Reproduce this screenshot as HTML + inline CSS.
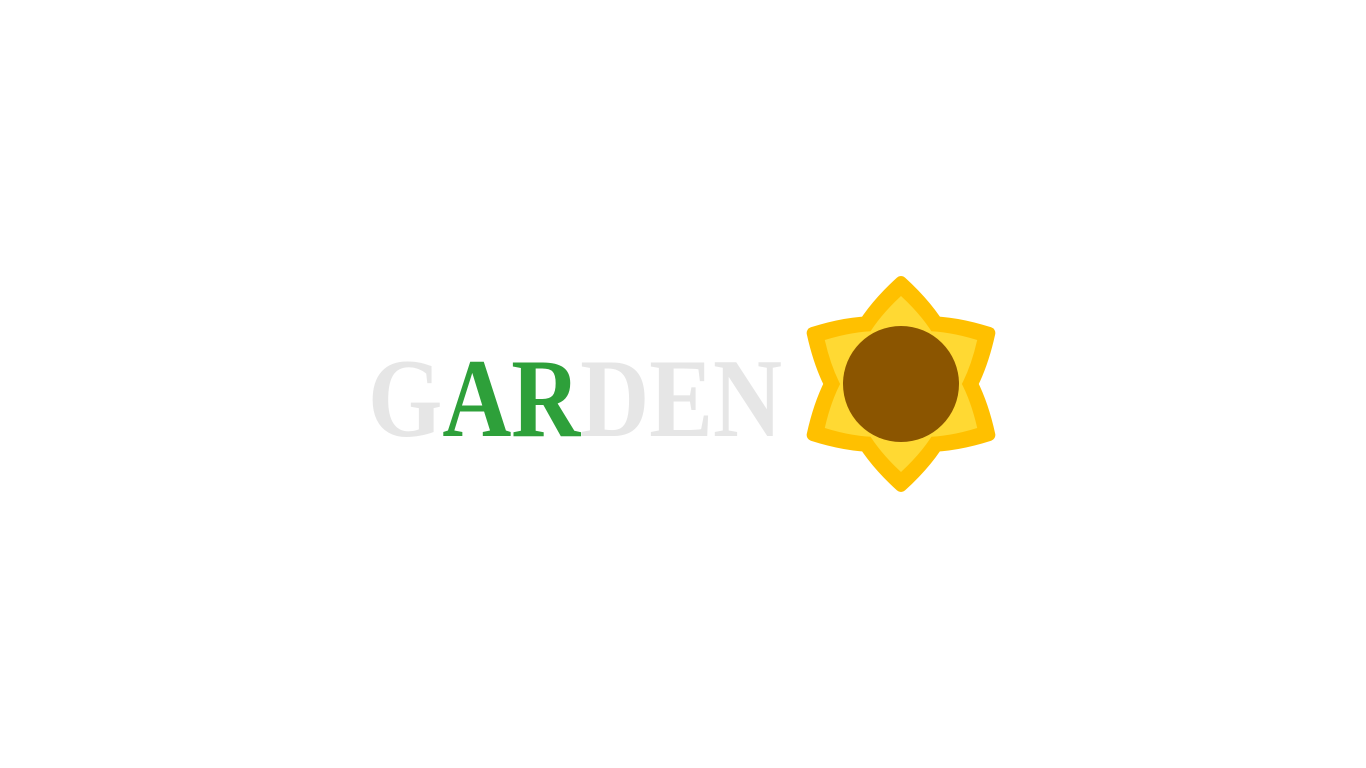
<!DOCTYPE html>
<html><head><meta charset="utf-8"><style>
html,body{margin:0;padding:0;background:#fff;width:1366px;height:768px;overflow:hidden}
</style></head><body>
<svg width="1366" height="768" viewBox="0 0 1366 768">
  <g font-family="'Liberation Serif', serif" font-weight="bold" font-size="112">
    <text x="368" y="436" textLength="414" lengthAdjust="spacingAndGlyphs"><tspan fill="#e6e6e6">G</tspan><tspan fill="#2ea03a">AR</tspan><tspan fill="#e6e6e6">DEN</tspan></text>
  </g>
  <g transform="translate(901,384)">
    <g stroke="#FFC000" stroke-width="12" stroke-linejoin="round" fill="#FFC000">
      <path d="M0,-102 Q112,0 0,102 Q-112,0 0,-102Z"/>
      <path d="M0,-102 Q112,0 0,102 Q-112,0 0,-102Z" transform="rotate(60)"/>
      <path d="M0,-102 Q112,0 0,102 Q-112,0 0,-102Z" transform="rotate(120)"/>
    </g>
    <g fill="#FFD933">
      <path d="M0,-88 Q95,0 0,88 Q-95,0 0,-88Z"/>
      <path d="M0,-88 Q95,0 0,88 Q-95,0 0,-88Z" transform="rotate(60)"/>
      <path d="M0,-88 Q95,0 0,88 Q-95,0 0,-88Z" transform="rotate(120)"/>
    </g>
    <ellipse cx="0" cy="0" rx="58" ry="58" fill="#8B5500"/>
  </g>
</svg>
</body></html>
